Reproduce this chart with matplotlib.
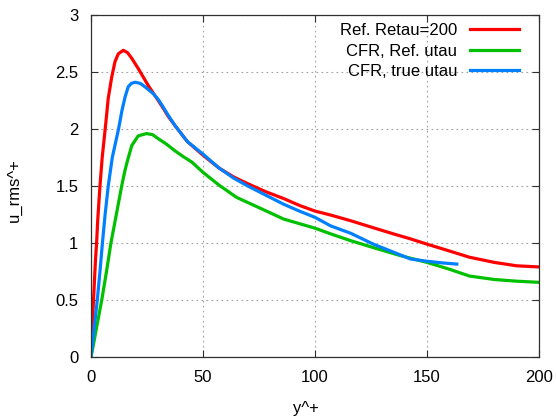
import numpy as np
import matplotlib
matplotlib.use('Agg')
import matplotlib.pyplot as plt

plt.rcParams['font.family'] = ['Liberation Sans', 'DejaVu Sans']

# Ref. Retau=200
ref_x = [0, 1, 2, 2.5, 3, 4, 5, 6.6, 7.7, 9.2, 10.7, 12.2, 14.4, 16.3, 18.2, 21.1, 25.6,
         30, 32.3, 34.5, 37.5, 43, 50, 57, 63.6, 70, 78, 86, 93, 100, 107, 116, 125,
         135, 142, 150, 160, 169, 180, 190, 200]
ref_y = [0, 0.45, 0.85, 1.0, 1.2, 1.5, 1.75, 2.05, 2.27, 2.45, 2.59, 2.66, 2.69, 2.67,
         2.62, 2.53, 2.38, 2.25, 2.18, 2.11, 2.03, 1.89, 1.77, 1.66, 1.58, 1.52, 1.45,
         1.39, 1.33, 1.28, 1.245, 1.195, 1.14, 1.08, 1.04, 0.99, 0.93, 0.875, 0.83,
         0.80, 0.79]

# CFR, Ref. utau
cfr_x = [0, 1, 2.5, 4.8, 7, 8.9, 11.5, 13.7, 15.2, 16.4, 18.2, 21.1, 24.8, 27.5, 30,
         33.5, 37.4, 41, 45, 50, 57, 65, 75, 86, 93, 100, 107, 116, 126, 138, 150,
         160, 169, 180, 190, 200]
cfr_y = [0, 0.1, 0.26, 0.5, 0.76, 1.0, 1.27, 1.5, 1.64, 1.73, 1.855, 1.94, 1.96, 1.95,
         1.915, 1.87, 1.81, 1.76, 1.71, 1.62, 1.51, 1.40, 1.31, 1.21, 1.17, 1.13, 1.08,
         1.02, 0.96, 0.89, 0.83, 0.77, 0.71, 0.68, 0.665, 0.655]

# CFR, true utau
tru_x = [0, 1, 2, 2.8, 4, 5.1, 6.3, 7.7, 9.5, 12.3, 13.8, 15.2, 16.6, 18, 19.7, 22,
         24.1, 27.8, 30, 32.3, 34.5, 37.5, 43, 50, 57, 63.6, 70, 78, 86, 93, 100, 107,
         116, 126, 135, 142.6, 150, 157, 163.3]
tru_y = [0, 0.18, 0.36, 0.5, 0.75, 1.0, 1.25, 1.5, 1.75, 2.0, 2.16, 2.28, 2.37, 2.40,
         2.41, 2.40, 2.37, 2.31, 2.26, 2.19, 2.12, 2.03, 1.89, 1.78, 1.66, 1.57, 1.5,
         1.42, 1.34, 1.28, 1.225, 1.15, 1.085, 0.99, 0.92, 0.86, 0.84, 0.825, 0.815]

fig = plt.figure(figsize=(5.56, 4.18), dpi=100)
ax = fig.add_axes([91/556, 1-357/418, 448/556, 342/418])

ax.plot(ref_x, ref_y, color='#ff0000', lw=2.3, label='Ref. Retau=200')
ax.plot(cfr_x, cfr_y, color='#00c000', lw=2.3, label='CFR, Ref. utau')
ax.plot(tru_x, tru_y, color='#0080ff', lw=2.3, label='CFR, true utau')

ax.set_xlim(0, 200)
ax.set_ylim(0, 3)
ax.set_xticks([0, 50, 100, 150, 200])
ax.set_yticks([0, 0.5, 1, 1.5, 2, 2.5, 3])
ax.set_yticklabels(['0', '0.5', '1', '1.5', '2', '2.5', '3'])
ax.grid(True, color='#a0a0a0', linestyle=(0, (1.5, 3)), lw=0.8)
ax.tick_params(direction='in', top=True, right=True, length=5, width=0.8,
               labelsize=12, pad=9, colors='#303030', labelcolor='black')
for s in ax.spines.values():
    s.set_color('#303030')
    s.set_linewidth(0.9)

fig.text(306/556, 1-408/418, 'y^+', fontsize=12, ha='center', va='center')
fig.text(14/556, 1-190/418, 'u_rms^+', fontsize=12, ha='center', va='center',
         rotation=90)

ax.legend(loc='upper right', frameon=False, markerfirst=False, fontsize=12,
          handlelength=2.93, handletextpad=0.78, labelspacing=0.33,
          borderpad=0, borderaxespad=0, bbox_to_anchor=(1-20/448, 0.976))

fig.savefig('out.png', dpi=100)
